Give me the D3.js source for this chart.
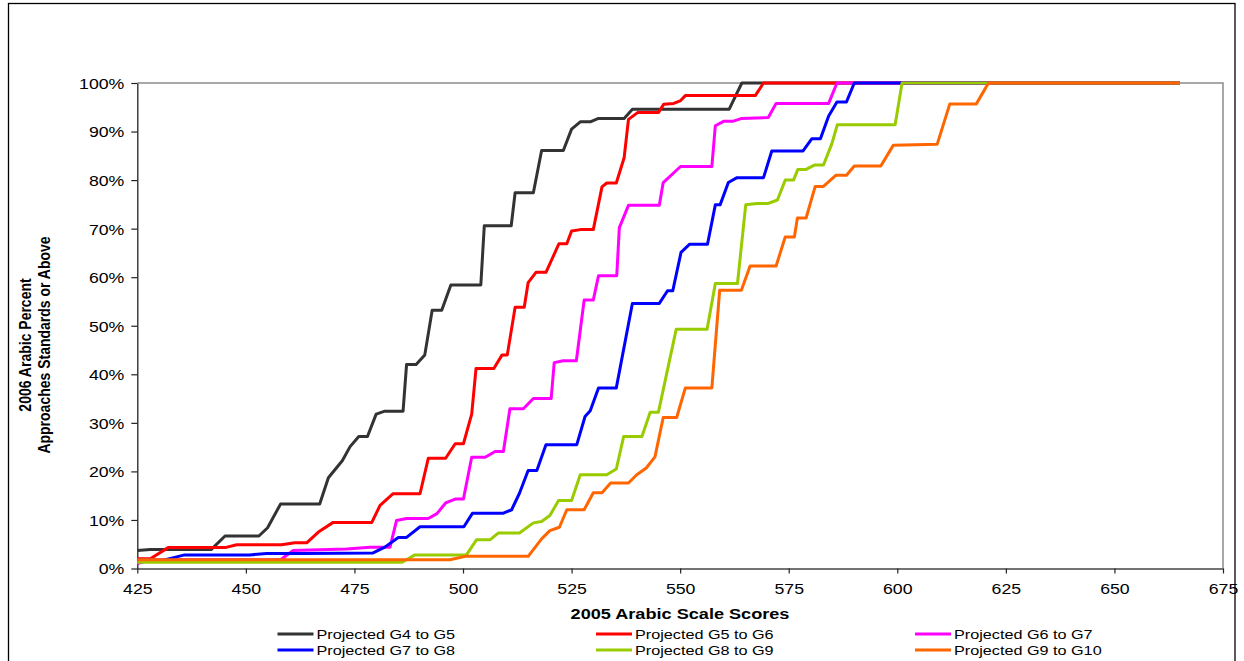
<!DOCTYPE html>
<html><head><meta charset="utf-8">
<script src="https://cdn.jsdelivr.net/npm/d3@7"></script>
<style>body{margin:0;background:#fff}</style>
</head><body>
<svg id="chart" width="1244" height="661"></svg>
<script>
// ---------- DATA ----------
const seriesNames = ["Projected G4 to G5","Projected G5 to G6","Projected G6 to G7","Projected G7 to G8","Projected G8 to G9","Projected G9 to G10"];
const xTicks = [425,450,475,500,525,550,575,600,625,650,675];
const yTicks = [0,10,20,30,40,50,60,70,80,90,100];

const g4g5Scores = [425,428,442,445.2,453,455,458,467,469,472.2,474,476,478,480,482,486.2,487,489.2,491.2,492.9,495.1,497.2,504.1,504.9,511.1,512,516.2,518.1,523.1,525,527,529.3,531.2,537.1,539,561.3,564.2,665];
const g4g5Pct    = [3.7,3.9,3.9,6.7,6.7,8.4,13.3,13.3,18.7,22.2,25.1,27.2,27.2,31.8,32.4,32.4,42.0,42.0,44.0,53.2,53.2,58.4,58.4,70.6,70.6,77.4,77.4,86.1,86.1,90.5,92.0,92.0,92.7,92.7,94.6,94.6,100,100];

const g5g6Scores = [425,428,432.1,445.2,447.9,458.2,461.3,464,466.7,470.1,479,480.9,483.9,490.1,492,496,498.2,500.1,502,503,507.1,509,510.2,512,514.1,515,516.8,519.1,522.1,523.9,525,527,530,532,533.1,535.3,537.1,538.1,540.2,545,546.2,548.5,550,551.2,567.3,569.2,665];
const g5g6Pct    = [2.0,2.0,4.3,4.3,4.9,4.9,5.3,5.3,7.5,9.5,9.5,13.0,15.4,15.4,22.7,22.7,25.7,25.7,31.8,41.2,41.2,44.0,44.0,53.8,53.8,58.9,61.0,61.0,66.9,66.9,69.5,69.8,69.8,78.6,79.4,79.4,84.6,92.5,93.9,93.9,95.6,95.8,96.3,97.4,97.4,100,100];

const g6g7Scores = [425,428,458,460.9,473.2,478.6,483.2,484.7,487,492,494,496,498.2,500.1,502,505.1,507.4,509.3,510.8,513.9,516.2,520.3,521,523.1,526.1,527.9,530,531.2,535.4,536,538.1,545.2,546.1,550.1,557.3,558.1,560,562.1,564.2,570.3,572.1,584.2,586.1,665];
const g6g7Pct    = [1.0,1.8,1.8,3.7,4.0,4.4,4.4,9.9,10.3,10.3,11.3,13.5,14.3,14.3,22.9,22.9,24.1,24.1,32.9,32.9,35.0,35.0,42.4,42.8,42.8,55.3,55.3,60.3,60.3,70.2,74.8,74.8,79.5,82.8,82.8,91.2,92.1,92.1,92.7,92.9,95.8,95.8,100,100];

const g7g8Scores = [425,431,433.6,435.9,450.9,454.8,463.2,479.3,482,485.1,487,490.1,500.2,502.2,509.3,511.2,513,515,517,519.1,526.2,528.1,529.3,531.2,535.3,539,545.2,547.1,548.3,550.2,552.2,556.3,558.1,559.2,561.1,563.1,569.2,571.1,578.3,580.3,582.3,584.2,586.1,588.3,590.1,665];
const g7g8Pct    = [1.7,1.7,2.3,2.8,2.8,3.1,3.1,3.2,4.4,6.4,6.4,8.6,8.6,11.4,11.4,12.1,15.5,20.2,20.2,25.5,25.5,31.3,32.5,37.2,37.2,54.6,54.6,57.2,57.2,65.1,66.8,66.8,74.9,74.9,79.5,80.5,80.5,86.0,86.0,88.5,88.5,93.2,96.1,96.1,100,100];

const g8g9Scores = [425,486,488.9,500.8,503.1,506.2,508.1,513,516.2,518.1,520,522,525,527,533.1,535.3,537,541.2,543.1,545,549.1,556.2,558.1,563.2,565.1,567.7,570.3,572.4,574.2,576.1,577.1,579,580.9,583,584.9,586.2,599.5,601.1,665];
const g8g9Pct    = [1.3,1.3,2.8,2.8,5.9,5.9,7.3,7.3,9.4,9.7,10.9,14.0,14.0,19.3,19.3,20.5,27.2,27.2,32.2,32.2,49.3,49.3,58.7,58.7,74.9,75.2,75.2,75.9,80.0,80.0,82.2,82.2,83.1,83.1,87.4,91.4,91.4,100,100];

const g9g10Scores = [425,497,500.5,515,518.1,520,522.2,523.9,527.9,530,532,534,538.1,540,542.2,544.2,546.1,549.2,551.2,557.3,559.1,564.1,566.1,572.1,574.2,576.3,577,579,581.1,583,585.9,588.3,590.1,596.2,599.1,609.2,612.1,618.2,621,665];
const g9g10Pct    = [1.8,1.8,2.5,2.5,6.1,7.8,8.5,12.1,12.1,15.6,15.6,17.6,17.6,19.3,20.7,23.0,31.1,31.1,37.2,37.2,57.3,57.3,62.3,62.3,68.3,68.3,72.2,72.2,78.7,78.7,81.0,81.0,82.9,82.9,87.2,87.4,95.7,95.7,100,100];

// ---------- STYLE / LAYOUT ----------
const colors = ["#333333","#FF0000","#FF00FF","#0000FF","#99CC00","#FF6600"];
const allScores = [g4g5Scores,g5g6Scores,g6g7Scores,g7g8Scores,g8g9Scores,g9g10Scores];
const allPct = [g4g5Pct,g5g6Pct,g6g7Pct,g7g8Pct,g8g9Pct,g9g10Pct];
const FONT = "'Liberation Sans', Arial, sans-serif";
const L = 137.3, R = 1223, T = 83, B = 568.5;

const svg = d3.select("#chart");
svg.append("rect").attr("x",8.5).attr("y",3.5).attr("width",1226.5).attr("height",720)
  .attr("fill","none").attr("stroke","#000").attr("stroke-width",1.3);

const x = d3.scaleLinear().domain([425,675]).range([L,R]);
const y = d3.scaleLinear().domain([0,100]).range([B,T]);

// plot frame (top/right gray)
svg.append("path").attr("d",`M${L},${T}H${R}V${B}`).attr("fill","none").attr("stroke","#8c8c8c").attr("stroke-width",1.5);

// y axis
const yAx = svg.append("g").attr("transform",`translate(${L},0)`)
  .call(d3.axisLeft(y).tickValues(yTicks).tickSize(6).tickSizeOuter(0).tickFormat(d=>d+"%"));
yAx.select(".domain").attr("stroke","#222").attr("stroke-width",1.3);
yAx.selectAll(".tick line").attr("stroke","#222").attr("stroke-width",1.2);
yAx.selectAll(".tick text").attr("x",0).attr("dy","0.36em").attr("font-family",FONT).attr("font-size",15).attr("fill","#000")
  .attr("transform","translate(-13,0) scale(1.18,1)");

// x axis
const xAx = svg.append("g").attr("transform",`translate(0,${B})`)
  .call(d3.axisBottom(x).tickValues(xTicks).tickSize(5).tickSizeOuter(0));
xAx.select(".domain").attr("stroke","#444").attr("stroke-width",1.3);
xAx.selectAll(".tick line").attr("stroke","#222").attr("stroke-width",1.2);
xAx.selectAll(".tick text").attr("y",0).attr("dy",0).attr("font-family",FONT).attr("font-size",15).attr("fill","#000")
  .attr("transform","translate(0,25.5) scale(1.18,1)");

// lines
const line = d3.line().x(d=>x(d[0])).y(d=>y(d[1]));
allScores.forEach((sc,i)=>{
  const pts = sc.map((s,j)=>[s, allPct[i][j]]);
  svg.append("path").datum(pts).attr("d",line).attr("fill","none")
    .attr("stroke",colors[i]).attr("stroke-width",3).attr("stroke-linejoin","round").attr("stroke-linecap","butt");
});

// axis titles
svg.append("text").attr("font-family",FONT).attr("font-weight","bold").attr("font-size",14.5)
  .attr("text-anchor","middle").attr("transform","translate(680,619) scale(1.25,1)").text("2005 Arabic Scale Scores");
const yTitle = ["2006 Arabic Percent","Approaches Standards or Above"];
const yTitleX = [31,50];
yTitle.forEach((t,i)=>{
  svg.append("text").attr("font-family",FONT).attr("font-weight","bold").attr("font-size",14)
    .attr("text-anchor","middle").attr("transform",`translate(${yTitleX[i]},345) rotate(-90) scale(1,1.15)`).text(t);
});

// legend
const legX = [277.5,596,915];
const legY = [634,650];
seriesNames.forEach((n,i)=>{
  const cx = legX[i%3], cy = legY[Math.floor(i/3)];
  svg.append("line").attr("x1",cx).attr("x2",cx+36).attr("y1",cy).attr("y2",cy)
    .attr("stroke",colors[i]).attr("stroke-width",3);
  svg.append("text").attr("font-family",FONT).attr("font-size",13.5)
    .attr("transform",`translate(${cx+39},${cy+5}) scale(1.2,1)`).text(n);
});
</script>
</body></html>
